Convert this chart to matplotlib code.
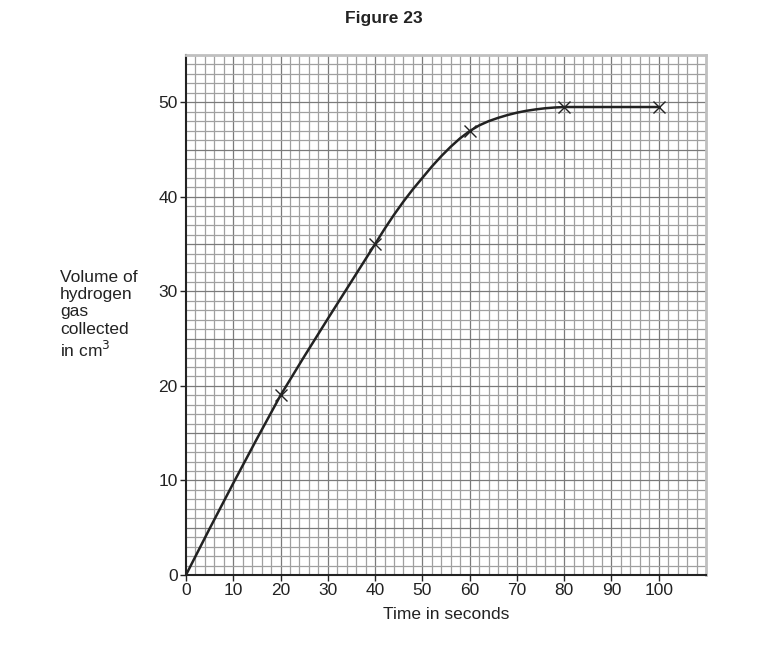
import numpy as np
from matplotlib import pyplot as plt

plt.rcParams['font.family'] = ['Liberation Sans', 'DejaVu Sans']

# measured points (crosses)
time_s = [20, 40, 60, 80, 100]
volume = [19, 35, 47, 49.5, 49.5]

# hand-drawn curve
curve_t = [0, 5, 10, 15, 20, 25, 30, 35, 40, 42, 44, 46, 48, 50, 52, 54, 56, 58, 60,
           62, 64, 66, 68, 70, 72, 74, 76, 78, 80, 100]
curve_v = [0, 4.9, 9.7, 14.4, 19.0, 23.1, 27.1, 31.05, 35.0, 36.6, 38.1, 39.5, 40.8,
           42.0, 43.2, 44.3, 45.3, 46.2, 46.95, 47.55, 48.0, 48.35, 48.65, 48.9, 49.1,
           49.25, 49.37, 49.45, 49.5, 49.5]

x_ticks = list(range(0, 101, 10))
y_ticks = list(range(0, 51, 10))

fig = plt.figure(figsize=(7.72, 6.67), dpi=100)
ax = fig.add_axes([0.2409, 0.138, 0.6736, 0.7795])
ax.set_xlim(0, 110)
ax.set_ylim(0, 55)

# graph paper
for gx in np.arange(2, 110, 2):
    c = '#7a7a7a' if gx % 10 == 0 else '#a0a0a0'
    ax.axvline(gx, color=c, lw=0.9, zorder=0)
for gy in np.arange(1, 55, 1):
    c = '#7a7a7a' if gy % 5 == 0 else '#a0a0a0'
    ax.axhline(gy, color=c, lw=0.9, zorder=0)

ax.plot(curve_t, curve_v, color='#222222', lw=1.8, zorder=3)
ax.plot(time_s, volume, 'x', color='#222222', ms=9, mew=1.0, zorder=4)

ax.set_xticks(x_ticks)
ax.set_yticks(y_ticks)
ax.tick_params(labelsize=12.5, length=4, width=1, colors='#222222', pad=2)
for s in ['left', 'bottom']:
    ax.spines[s].set_color('#222222')
    ax.spines[s].set_linewidth(1.5)
for s in ['right', 'top']:
    ax.spines[s].set_color('#c0c0c0')
    ax.spines[s].set_linewidth(2)

ax.set_xlabel('Time in seconds', fontsize=12.5, labelpad=6, color='#222222')
fig.text(60 / 772, 1 - 315 / 667, 'Volume of\nhydrogen\ngas\ncollected\nin cm$^3$',
         fontsize=12.5, va='center', ha='left', linespacing=1.2, color='#222222')
fig.text(384 / 772, 1 - 18 / 667, 'Figure 23', fontsize=12.5, fontweight='bold',
         ha='center', va='center', color='#222222')

fig.savefig('out.png', dpi=100)
